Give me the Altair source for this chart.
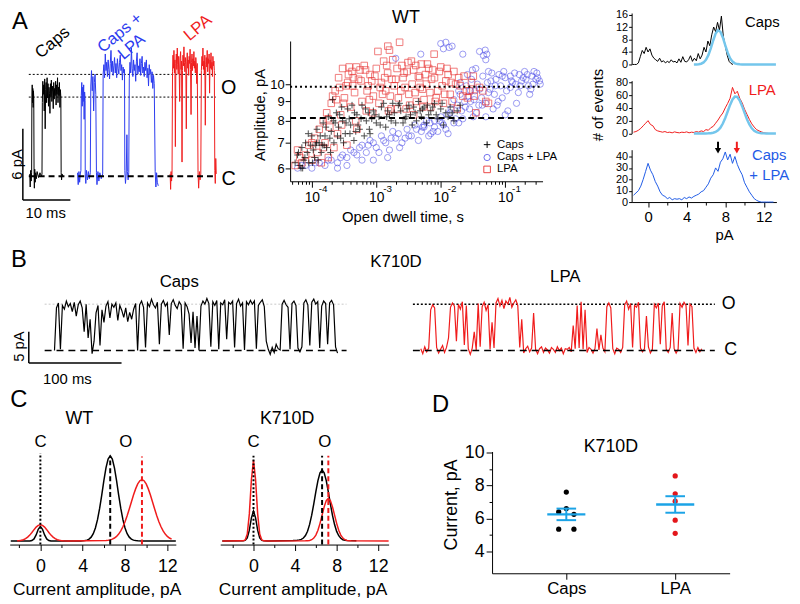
import altair as alt
import pandas as pd

FONT = "Liberation Sans"
OX, OY = 8, 8          # page margin
W, H = 792, 596        # whole drawing area (chart coords)

BLACK = "#000000"
BLUE = "#2b3bef"
BLUE_H = "#1f5be6"
RED = "#f01c1c"
CYAN_FIT = "#74c6ec"
CYAN_D = "#1ba3e6"
SC_BLUE = "#4d4de8"
SC_RED = "#e83232"

# ======================= DATA =======================
# ---- Panel A: single-channel traces (time ms, current pA) ----
a_caps_t = [1.45, 1.55, 1.65, 1.75, 1.85, 1.9, 1.97, 2.03, 2.1, 2.17, 2.23, 2.3,
            2.36, 2.42, 2.5, 2.6, 2.7, 2.85, 3.0, 3.3, 3.6, 3.9, 4.03,
            4.1, 4.2, 4.3, 4.4, 4.5, 4.6, 4.7, 4.8, 4.9, 5.0,
            5.1, 5.2, 5.3, 5.4, 5.5, 5.6, 5.7, 5.8, 5.9, 6.0,
            6.1, 6.2, 6.3, 6.4, 6.5, 6.6, 6.7, 6.8, 6.9, 7.0,
            7.1, 7.2, 7.3, 7.4, 7.5, 7.6, 7.7, 7.8, 7.9, 8.0,
            8.06, 8.15, 8.25, 8.4]
a_caps_i = [0.2, -0.9, 0.5, -0.4, 0.3, 6.5, 7.7, 6.2, 7.4, 5.8, 7.2, 6.6,
            0.4, -1.0, 0.6, -0.5, 0.3, -0.2, 0.4, -0.1, 0.3, 0.0, 0.2,
            6.2, 8.0, 6.9, 7.7, 5.5, 8.2, 4.0, 7.3, 7.9, 6.2,
            8.3, 6.6, 7.8, 5.9, 7.5, 7.0, 5.3, 7.8, 6.7, 8.1,
            6.3, 7.6, 7.1, 5.7, 7.9, 6.5, 7.4, 6.8, 8.0, 6.0,
            7.7, 6.9, 8.3, 6.2, 7.5, 6.8, 7.9, 5.8, 7.3, 6.6,
            0.3, -0.3, 0.2, 0.0]
a_mix_trace = [
    (11.5, 0.3), (11.65, -0.7), (11.8, 0.4), (11.95, -0.5), (12.1, 0.2), (12.22, 0.5),
    (12.3, 6.8), (12.4, 7.9), (12.5, 5.9), (12.6, 7.5), (12.7, 6.3), (12.8, 7.7), (12.9, 4.8),
    (13.0, 7.1), (13.1, 6.4), (13.13, 0.2), (13.25, -0.6), (13.4, 0.5), (13.6, -0.3),
    (13.8, 0.4), (14.0, -0.2), (14.2, 0.3), (14.3, 7.6), (14.45, 8.9), (14.6, 7.2), (14.75, 8.4),
    (14.9, 5.5), (15.05, 7.9), (15.2, 8.6), (15.35, 6.9), (15.49, 0.3), (15.6, -0.7), (15.8, 0.4),
    (16.0, -0.4), (16.2, 0.3), (16.5, -0.2), (16.8, 0.2), (16.9, 8.6), (17.05, 9.4), (17.2, 8.3),
    (17.35, 10.3), (17.5, 8.9), (17.65, 9.6), (17.8, 8.4), (17.95, 9.8), (18.1, 9.0), (18.25, 8.2),
    (18.4, 9.5), (18.55, 10.6), (18.7, 8.8), (18.85, 9.7), (19.0, 8.5), (19.15, 9.3), (19.3, 10.0),
    (19.45, 8.7), (19.6, 9.5), (19.75, 8.3), (19.9, 9.9), (20.05, 9.1), (20.2, 8.6), (20.35, 9.6),
    (20.5, 10.2), (20.65, 8.9), (20.8, 9.4), (20.95, 8.1), (21.1, 9.2), (21.25, 8.7), (21.4, 9.0),
    (21.46, 0.5), (21.6, -0.6), (21.75, 0.2), (21.9, 3.5), (22.0, 0.4), (22.15, -0.3), (22.29, 0.3),
    (22.4, 8.2), (22.55, 9.6), (22.7, 8.7), (22.85, 10.8), (23.0, 9.1), (23.15, 8.4), (23.3, 9.8),
    (23.45, 8.9), (23.6, 9.4), (23.75, 8.0), (23.9, 9.7), (24.05, 10.4), (24.2, 8.6), (24.35, 9.3),
    (24.5, 8.8), (24.65, 9.9), (24.8, 8.5), (24.95, 9.5), (25.1, 10.1), (25.25, 8.7), (25.4, 9.2),
    (25.55, 8.4), (25.7, 9.6), (25.85, 8.9), (26.0, 9.8), (26.15, 8.3), (26.3, 9.1), (26.45, 7.6),
    (26.6, 9.4), (26.75, 8.6), (26.9, 9.0), (27.05, 7.9), (27.2, 8.8), (27.35, 7.4), (27.5, 8.5),
    (27.65, 7.8), (27.85, 0.4), (28.0, -0.9), (28.15, 0.3), (28.3, -0.5), (28.5, -0.8)]
a_lpa_trace = [
    (31.0, 0.2), (31.1, -1.1), (31.2, 0.4), (31.3, -0.4), (31.4, 0.3), (31.5, 8.8), (31.6, 10.2),
    (31.7, 9.1), (31.8, 10.6), (31.9, 8.7), (32.0, 9.8), (32.1, 2.5), (32.2, 9.5), (32.3, 10.3),
    (32.4, 9.0), (32.5, 10.8), (32.6, 9.4), (32.7, 8.6), (32.8, 10.1), (32.9, 9.2), (33.0, 6.3),
    (33.1, 9.9), (33.2, 10.5), (33.3, 9.0), (33.4, 9.7), (33.5, 1.2), (33.6, 8.9), (33.7, 10.2),
    (33.8, 9.3), (33.9, 10.9), (34.0, 9.6), (34.1, 8.8), (34.2, 10.0), (34.3, 9.4), (34.4, 4.0),
    (34.5, 9.7), (34.6, 10.4), (34.7, 9.1), (34.8, 9.8), (34.9, 8.5), (35.0, 10.1), (35.1, 9.5),
    (35.2, 10.7), (35.3, 9.0), (35.4, 5.2), (35.5, 9.6), (35.6, 10.3), (35.7, 8.9), (35.8, 9.9),
    (35.9, 9.3), (36.0, 10.5), (36.1, 9.1), (36.2, 9.7), (36.3, 8.7), (36.4, 10.0), (36.5, 9.4),
    (36.6, 7.8), (36.7, 9.5), (36.87, 0.3), (37.0, -1.0), (37.15, 0.4), (37.3, -0.3), (37.45, 0.2),
    (37.57, 8.9), (37.7, 10.1), (37.8, 9.3), (37.9, 10.8), (38.0, 9.0), (38.1, 9.7), (38.2, 8.6),
    (38.3, 10.2), (38.4, 4.3), (38.5, 9.4), (38.6, 10.0), (38.7, 9.2), (38.8, 10.6), (38.9, 8.8),
    (39.0, 9.9), (39.1, 9.5), (39.2, 10.3), (39.3, 7.0), (39.4, 9.8), (39.5, 9.1), (39.6, 10.4),
    (39.7, 9.0), (39.8, 9.6), (39.9, 8.4), (40.0, 10.1), (40.1, 9.3), (40.2, 9.7), (40.3, 8.9),
    (40.4, 0.5), (40.5, -0.6), (40.6, 1.5), (40.7, 0.2)]
a_open_levels = [8.58, 6.67]
a_closed_level = 0.0
a_level_span = [1.25, 40.6]
a_bar_pa, a_bar_ms = 6, 10

# ---- Panel A: WT amplitude vs open dwell time ----
lpa_dwell = [5.5e-5, 6.0e-5, 6.5e-5, 7.0e-5, 8.0e-5, 9.0e-5, 1.0e-4, 1.1e-4, 1.2e-4, 1.3e-4,
             1.4e-4, 1.5e-4, 1.6e-4, 1.7e-4, 1.8e-4, 1.9e-4, 2.0e-4, 2.2e-4, 2.3e-4, 2.5e-4,
             2.6e-4, 2.8e-4, 3.0e-4, 3.2e-4, 3.5e-4, 3.6e-4, 3.8e-4, 4.0e-4, 4.2e-4, 4.6e-4,
             5.0e-4, 5.3e-4, 6.0e-4, 6.5e-4, 7.0e-4, 7.5e-4, 8.0e-4, 9.0e-4, 1.0e-3, 1.06e-3,
             1.1e-3, 1.2e-3, 1.3e-3, 1.4e-3, 1.5e-3, 1.51e-3, 1.6e-3, 1.7e-3, 1.8e-3, 2.0e-3,
             2.2e-3, 2.3e-3, 2.5e-3, 2.8e-3, 3.0e-3, 3.3e-3, 3.5e-3, 4.0e-3, 4.5e-3, 5.0e-3,
             5.5e-3, 6.0e-3, 6.5e-3, 7.0e-3, 7.9e-3, 8.0e-3, 9.0e-3, 1.0e-2, 1.1e-2, 1.2e-2,
             1.4e-2, 1.6e-2, 1.8e-2, 2.0e-2, 2.3e-2, 2.6e-2, 3.0e-2, 3.5e-2, 4.0e-2, 5.0e-2,
             5.5e-2, 2.4e-4, 3.4e-4, 4.4e-4, 5.6e-4, 7.2e-4, 8.5e-4, 1.15e-3, 1.35e-3, 1.65e-3,
             1.9e-3, 2.6e-3, 3.2e-3, 3.8e-3, 4.2e-3, 4.8e-3, 5.8e-3, 6.8e-3, 7.5e-3, 8.5e-3,
             1.3e-2, 1.5e-2, 1.7e-2, 2.2e-2, 2.8e-2, 3.2e-2, 3.8e-3, 2.1e-3, 1.0e-4, 1.5e-4,
             2.1e-4, 2.7e-4, 3.1e-4, 3.7e-4, 4.3e-4, 4.9e-4, 5.8e-4, 6.8e-4, 7.8e-4, 9.5e-4,
             1.25e-3, 1.45e-3, 1.75e-3, 2.1e-3, 2.4e-3, 2.7e-3, 3.1e-3, 3.6e-3, 4.1e-3, 4.7e-3,
             5.2e-3, 6.2e-3, 7.2e-3, 8.2e-3, 9.5e-3, 1.05e-2, 1.25e-2, 1.45e-2, 1.9e-2, 2.5e-2,
             1.8e-4, 2.9e-4, 4.8e-4, 8.8e-4, 1.55e-3, 2.9e-3, 5.3e-3, 1.15e-2, 3.3e-2, 4.5e-2]
lpa_amp = [6.1, 6.7, 6.4, 6.2, 6.5, 6.9, 6.3, 7.2, 6.6, 7.6,
           6.2, 8.0, 7.0, 8.4, 6.4, 7.7, 8.9, 6.8, 9.6, 7.4,
           10.4, 8.3, 11.0, 9.2, 6.9, 10.1, 11.1, 8.7, 10.8, 9.5,
           7.6, 10.3, 9.0, 11.2, 8.5, 9.9, 10.6, 9.3, 11.0, 12.2,
           8.9, 10.1, 11.5, 9.6, 10.7, 12.6, 12.3, 8.6, 11.6, 10.3,
           9.2, 12.9, 11.2, 9.8, 10.8, 8.8, 11.5, 9.5, 10.5, 11.3,
           9.1, 10.0, 11.0, 8.7, 12.0, 10.4, 9.6, 11.1, 8.9, 10.2,
           9.4, 10.8, 8.6, 9.9, 10.5, 9.2, 10.1, 8.4, 9.8, 9.0,
           8.9, 9.1, 9.9, 10.4, 10.9, 9.6, 10.2, 9.8, 10.4, 9.3,
           9.9, 10.4, 9.4, 10.9, 9.0, 9.8, 10.6, 9.5, 10.9, 9.2,
           10.6, 9.0, 10.0, 9.3, 9.6, 10.5, 8.3, 8.6, 7.0, 6.8,
           9.3, 9.8, 8.9, 10.6, 9.9, 11.1, 10.2, 10.9, 9.1, 10.5,
           9.4, 11.2, 10.3, 11.0, 9.6, 10.7, 11.4, 10.0, 11.2, 10.4,
           9.7, 11.3, 10.3, 9.0, 10.8, 9.9, 11.0, 10.1, 10.4, 9.6,
           8.1, 7.8, 8.0, 8.4, 8.5, 8.6, 8.7, 9.4, 9.3, 9.6]
caps_dwell = [5.5e-5, 6.0e-5, 6.5e-5, 7.0e-5, 7.5e-5, 8.0e-5, 8.5e-5, 9.0e-5, 1.0e-4, 1.05e-4,
              1.1e-4, 1.2e-4, 1.3e-4, 1.4e-4, 1.5e-4, 1.6e-4, 1.7e-4, 1.8e-4, 2.0e-4, 2.2e-4,
              2.4e-4, 2.6e-4, 2.8e-4, 3.0e-4, 3.3e-4, 3.6e-4, 4.0e-4, 4.5e-4, 5.0e-4, 5.5e-4,
              6.0e-4, 7.0e-4, 8.0e-4, 9.0e-4, 1.0e-3, 1.2e-3, 1.4e-3, 1.6e-3, 1.8e-3, 2.0e-3,
              2.4e-3, 2.8e-3, 3.2e-3, 3.6e-3, 4.0e-3, 4.5e-3, 5.0e-3, 5.5e-3, 6.0e-3, 7.0e-3,
              8.0e-3, 9.0e-3, 1.0e-2, 1.1e-2, 1.2e-2, 1.4e-2, 1.6e-2, 1.8e-2, 2.0e-2, 2.1e-4,
              6.8e-5, 7.8e-5, 9.5e-5, 1.15e-4, 1.25e-4, 1.35e-4, 1.55e-4, 1.9e-4, 2.3e-4, 2.7e-4,
              3.1e-4, 3.8e-4, 4.2e-4, 4.8e-4, 6.5e-4, 7.5e-4, 8.5e-4, 1.1e-3, 1.3e-3, 1.5e-3,
              1.7e-3, 2.2e-3, 2.6e-3, 3.0e-3, 3.4e-3, 4.2e-3, 5.2e-3, 6.5e-3, 7.5e-3, 1.3e-2,
              6.2e-5, 7.2e-5, 8.8e-5, 1.02e-4, 1.18e-4, 1.45e-4, 1.65e-4, 1.95e-4, 2.15e-4, 2.5e-4,
              2.9e-4, 3.4e-4, 3.9e-4, 4.6e-4, 5.2e-4, 5.8e-4, 6.8e-4, 7.8e-4, 9.5e-4, 1.15e-3,
              1.45e-3, 1.9e-3, 2.3e-3, 2.9e-3, 3.8e-3, 4.8e-3, 6.2e-3, 8.5e-3, 1.05e-2, 1.5e-2]
caps_amp = [6.2, 6.5, 6.1, 6.8, 6.3, 7.0, 6.6, 6.2, 7.3, 6.7,
            6.4, 7.6, 7.0, 6.6, 7.9, 7.3, 6.8, 8.2, 7.5, 7.0,
            8.4, 7.7, 7.2, 8.0, 7.4, 8.6, 7.8, 7.1, 8.3, 7.6,
            8.8, 8.0, 7.4, 8.5, 7.9, 8.7, 7.7, 8.3, 8.9, 7.9,
            8.5, 8.1, 8.8, 7.8, 8.4, 9.0, 8.2, 8.7, 7.9, 8.5,
            8.9, 8.1, 8.6, 7.8, 8.4, 8.7, 8.0, 8.5, 8.8, 9.1,
            6.0, 6.4, 6.9, 6.9, 6.3, 7.3, 6.9, 7.2, 7.9, 8.3,
            7.0, 8.1, 8.8, 7.5, 7.3, 8.4, 8.1, 8.2, 8.9, 8.5,
            8.0, 8.8, 7.9, 8.6, 8.3, 8.0, 8.6, 8.3, 8.7, 8.2,
            6.6, 6.0, 7.4, 6.2, 7.0, 6.9, 7.7, 6.6, 8.0, 7.3,
            8.7, 7.9, 7.4, 8.4, 7.8, 8.1, 8.6, 7.6, 8.3, 7.8,
            8.2, 8.4, 8.9, 8.2, 8.7, 8.5, 8.8, 8.3, 8.9, 8.4]
mix_dwell = [6.0e-5, 8.0e-5, 1.0e-4, 1.3e-4, 1.6e-4, 2.0e-4, 2.5e-4, 3.0e-4, 3.5e-4, 4.0e-4,
             5.0e-4, 6.0e-4, 7.0e-4, 8.0e-4, 1.0e-3, 1.2e-3, 1.4e-3, 1.6e-3, 1.8e-3, 2.0e-3,
             2.5e-3, 3.0e-3, 3.5e-3, 4.0e-3, 5.0e-3, 6.0e-3, 7.0e-3, 8.0e-3, 1.0e-2, 1.2e-2,
             1.4e-2, 1.6e-2, 1.8e-2, 2.0e-2, 2.2e-2, 2.5e-2, 2.8e-2, 3.0e-2, 3.3e-2, 3.6e-2,
             4.0e-2, 4.5e-2, 5.0e-2, 5.5e-2, 6.0e-2, 6.5e-2, 7.0e-2, 8.0e-2, 9.0e-2, 0.10,
             0.11, 0.12, 0.14, 0.16, 0.18, 0.20, 0.23, 0.26, 0.30, 0.35,
             0.10, 5.0e-2, 2.0e-3, 4.9e-3, 1.0e-2, 1.2e-2, 1.5e-2, 4.9e-2, 4.6e-2, 5.2e-2,
             1.1e-2, 1.35e-2, 5.0e-2, 2.2e-2, 9.0e-4, 1.5e-3, 2.5e-4, 3.5e-4, 6.0e-4, 1.1e-3,
             2.3e-3, 2.8e-3, 4.5e-3, 5.5e-3, 6.5e-3, 9.0e-3, 1.1e-2, 1.3e-2, 1.7e-2, 1.9e-2,
             2.4e-2, 2.7e-2, 3.2e-2, 3.9e-2, 4.3e-2, 5.8e-2, 7.5e-2, 8.5e-2, 0.13, 0.15,
             0.17, 0.19, 0.22, 0.25, 0.28, 0.32, 3.1e-2, 3.4e-2, 6.2e-2, 7.2e-2,
             2.0e-2, 2.6e-2, 1.6e-2, 1.9e-2, 9.5e-2, 0.12, 4.0e-2, 8.0e-3, 5.5e-3, 3.5e-2,
             7.0e-5, 1.15e-4, 1.8e-4, 2.8e-4, 4.5e-4, 5.5e-4, 7.5e-4, 9.0e-4, 1.3e-3, 1.7e-3,
             2.2e-3, 3.2e-3, 4.2e-3, 5.2e-3, 6.8e-3, 7.6e-3, 9.5e-3, 1.05e-2, 1.25e-2, 1.45e-2,
             2.1e-2, 2.35e-2, 2.9e-2, 3.7e-2, 4.4e-2, 5.3e-2, 6.8e-2, 7.8e-2, 0.105, 0.125,
             0.145, 0.165, 0.21, 0.24, 0.27, 0.31, 0.34, 0.09, 0.055, 0.029]
mix_amp = [6.0, 6.1, 6.0, 6.2, 6.1, 6.3, 6.2, 6.5, 6.4, 6.7,
           6.5, 6.9, 6.6, 7.1, 6.8, 7.3, 7.0, 6.7, 7.5, 7.2,
           7.0, 7.6, 7.3, 7.8, 7.5, 8.0, 7.4, 7.7, 8.2, 7.6,
           8.4, 7.9, 8.8, 9.4, 8.1, 9.9, 8.6, 10.3, 9.1, 8.4,
           9.7, 10.5, 8.9, 9.5, 10.2, 8.6, 9.9, 10.6, 9.2, 10.4,
           8.5, 9.8, 10.7, 9.5, 10.2, 10.8, 9.9, 10.5, 10.3, 10.0,
           8.3, 8.2, 11.7, 12.0, 12.8, 12.9, 12.6, 12.3, 11.9, 12.0,
           12.4, 12.5, 11.6, 12.0, 6.3, 6.4, 6.0, 6.1, 6.3, 6.6,
           6.8, 7.2, 7.1, 7.7, 7.3, 7.5, 7.8, 7.4, 8.1, 7.9,
           8.7, 9.3, 8.2, 8.8, 9.2, 9.7, 8.8, 9.9, 10.1, 8.9,
           9.9, 10.4, 10.6, 9.7, 10.8, 10.4, 10.9, 9.6, 10.7, 10.3,
           10.1, 10.6, 9.1, 9.6, 10.8, 10.5, 12.2, 8.0, 7.8, 11.0,
           6.1, 6.2, 6.3, 6.4, 6.6, 6.8, 6.9, 7.0, 7.1, 7.2,
           7.4, 7.3, 7.6, 7.7, 7.9, 7.5, 8.0, 7.9, 8.3, 8.6,
           8.5, 9.0, 9.6, 10.0, 8.8, 10.1, 9.4, 9.0, 9.6, 10.2,
           10.0, 10.6, 10.3, 9.4, 10.0, 10.7, 10.2, 10.5, 10.8, 9.0]
wt_open_level, wt_caps_level = 9.84, 8.14
scatter_span = [4.6e-5, 0.38]

# ---- Panel A: amplitude histograms (pA, # of events) ----
h_caps_start, h_caps_step = -1.6, 0.2
h_caps_counts = [0, 0, 0, 0.5, 2.5, 4.5, 3.5, 5.5, 4.0, 5.0,
                 3.0, 2.0, 1.5, 1.0, 2.0, 0.8, 1.2, 0.5, 1.0, 0.6,
                 1.5, 0.8, 1.0, 0.5, 1.8, 0.7, 2.5, 1.0, 0.8, 1.5,
                 2.8, 1.0, 2.0, 1.2, 3.5, 1.8, 3.0, 5.5, 4.0, 7.5,
                 6.0, 9.5, 12.0, 10.5, 13.5, 11.0, 15.5, 9.0, 6.0, 3.0,
                 1.0, 0.3, 0.0]
h_lpa_start, h_lpa_step = -1.5, 0.25
h_lpa_counts = [2, 3, 5, 8, 12, 16, 20, 14, 12, 6,
                4, 3, 2, 3, 1.5, 2, 1, 2.5, 1.5, 1,
                2, 1.5, 2.5, 1, 2, 1.5, 3, 2, 4, 3,
                6, 5, 9, 11, 16, 21, 27, 32, 40, 47,
                55, 72, 62, 66, 55, 48, 38, 30, 22, 15,
                10, 6, 4, 2.5, 1, 0.5, 0]
h_mix_start, h_mix_step = -1.5, 0.25
h_mix_counts = [6, 8, 10, 14, 20, 27, 34, 28, 24, 18,
                14, 9, 6, 5, 3, 4, 2, 3, 2.5, 3,
                2, 4, 3, 4.5, 3.5, 5, 6, 7, 9, 10,
                13, 16, 21, 24, 30, 27, 35, 38, 44, 37,
                42, 34, 40, 33, 28, 24, 17, 13, 9, 6,
                3, 1.5, 0.5, 0, 0, 0, 0, 0, 0]
fit_start, fit_step, fit_end = 4.75, 0.25, 13.25
fit_caps_counts = [0.0, 0.02, 0.08, 0.24, 0.64, 1.49, 2.98, 5.16, 7.69, 9.89, 10.97,
                   10.49, 8.65, 6.16, 3.78, 2.0, 0.91, 0.36, 0.12, 0.04, 0.01, 0.0]
fit_lpa_counts = [0, 0, 0, 0.01, 0.02, 0.06, 0.16, 0.43, 1.06, 2.36, 4.85, 9.0, 15.5,
                  24.1, 34.3, 44.6, 53.1, 57.6, 57.1, 51.6, 42.7, 32.2, 22.2, 14.0, 8.05,
                  4.2, 2.03, 0.89, 0.36, 0.13, 0.04, 0.01]
arrow_caps_pa, arrow_lpa_pa = 7.25, 9.2

# ---- Panel B: K710D traces (ms, pA), 2.134 ms per sample ----
b_dt = 2.134
b_caps_t0 = 27.7
b_caps_i = [0.0, 6.8, 7.6, 0.2, 7.2, 6.6, 7.9, 7.0, 7.5, 6.2,
            7.7, 5.5, 7.3, 7.9, 6.8, 3.0, 7.4, 2.0, 5.0, -0.5,
            1.5, 6.0, 7.2, 0.8, 6.5, 4.5, 7.1, 7.8, 5.2, 7.4,
            6.9, 7.6, 4.8, 7.2, 6.4, 5.3, 6.8, 4.6, 6.1, 5.0,
            6.6, 7.5, 0.0, 7.3, 7.9, 6.9, 0.5, 7.6, 7.0, 8.2,
            7.3, 6.8, 7.7, 1.0, 7.4, 8.0, 7.1, 7.6, 2.5, 7.5,
            8.1, 7.2, 6.7, 7.8, 7.3, 0.3, 7.6, 7.0, 5.8, 1.2,
            6.2, 0.4, 5.5, 0.0, 7.1, 7.9, 7.4, 8.3, 7.5, 0.6,
            7.8, 7.2, 8.0, 0.2, 7.6, 7.3, 8.1, 1.8, 7.7, 7.4,
            7.9, 0.5, 7.5, 8.2, 7.1, 7.6, 0.1, 7.8, 7.3, 8.0,
            7.4, 7.9, 0.3, 7.2, 7.7, 8.1, 7.0, 1.5, 0.2, -0.6,
            0.5, -0.3, 1.0, 0.3, 0.1, 7.4, 8.0, 7.3, 6.9, 0.2,
            7.5, 7.9, 7.2, 0.4, -0.2, 0.6, 7.6, 8.1, 7.3, 0.8,
            7.7, 8.2, 7.4, 7.8, 0.4, 7.1, 7.9, 7.5, 1.0, 7.6,
            8.0, 7.3, 0.6, -0.4]
b_lpa_t0 = 0.0
b_lpa_i = [0.3, -0.5, 0.6, -0.2, 0.4, 6.5, 7.3, 6.8, 0.5, -0.4,
           0.2, 0.8, -0.3, 0.5, 2.0, 6.9, 7.6, 7.1, 1.5, 7.4,
           6.6, 7.8, 0.9, 7.2, 0.3, -0.6, 0.4, 3.0, 0.1, 7.5,
           0.6, 7.0, 7.7, 6.4, 7.3, 0.2, 4.5, 0.4, 7.6, 8.3,
           7.1, 8.0, 6.7, 7.9, 7.4, 8.5, 6.9, 7.6, 8.1, 7.2,
           0.5, 5.0, -0.4, 0.3, 0.7, -0.2, 0.4, 6.0, 0.2, -0.5,
           0.3, 0.6, -0.3, 0.4, 0.1, -0.4, 0.5, 0.2, -0.3, 0.6,
           0.0, 0.4, -0.5, 0.3, 0.2, 0.5, -0.2, 4.0, 0.3, 7.2,
           0.4, 7.8, 0.2, 6.5, -0.3, 0.5, 0.2, -0.4, 0.3, 3.5,
           0.1, 2.5, 0.4, -0.2, 7.0, 7.6, 6.8, 0.3, -0.5, 0.4,
           0.2, -0.3, 0.5, 7.3, 7.9, 6.6, 7.5, 0.5, 7.2, 6.9,
           7.7, 0.4, -0.2, 0.3, 5.5, 0.6, -0.4, 0.2, 7.4, 6.8,
           7.6, 1.0, 7.1, 7.8, 0.2, -0.3, 0.5, 6.0, 0.3, -0.4,
           0.2, 7.5, 6.9, 7.7, 7.2, 0.8, 7.4, 7.0, 0.4, -0.3,
           0.5, -0.2, 0.3]
b_open_level = 7.4
b_caps_span = [17.1, 342.6]
b_lpa_span = [-8.5, 317.0]
b_bar_pa, b_bar_ms = 5, 100

# ---- Panel C: fitted amplitude distributions (pA, normalised) ----
c_wt_caps = [(-2.8, 0), (-1.0, 0), (-0.8, 0.005), (-0.6, 0.023), (-0.4, 0.070), (-0.2, 0.136),
             (0, 0.17), (0.2, 0.136), (0.4, 0.070), (0.6, 0.023), (0.8, 0.005), (1.0, 0),
             (3.8, 0), (4.0, 0.0015), (4.2, 0.004), (4.4, 0.009), (4.6, 0.021), (4.8, 0.044),
             (5.0, 0.085), (5.2, 0.151), (5.4, 0.249), (5.6, 0.381), (5.8, 0.539), (6.0, 0.707),
             (6.2, 0.857), (6.4, 0.962), (6.6, 1.0), (6.8, 0.962), (7.0, 0.857), (7.2, 0.707),
             (7.4, 0.539), (7.6, 0.381), (7.8, 0.249), (8.0, 0.151), (8.2, 0.085), (8.4, 0.044),
             (8.6, 0.021), (8.8, 0.009), (9.0, 0.004), (9.2, 0.0015), (9.6, 0), (12.8, 0)]
c_wt_lpa = [(-2.2, 0.001), (-2.0, 0.003), (-1.8, 0.007), (-1.6, 0.014), (-1.4, 0.026),
            (-1.2, 0.044), (-1.0, 0.068), (-0.8, 0.099), (-0.6, 0.132), (-0.4, 0.162),
            (-0.2, 0.182), (0, 0.19), (0.2, 0.182), (0.4, 0.162), (0.6, 0.132), (0.8, 0.099),
            (1.0, 0.068), (1.2, 0.044), (1.4, 0.026), (1.6, 0.014), (1.8, 0.007), (2.0, 0.003),
            (2.2, 0.001), (2.6, 0), (6.2, 0.004), (6.4, 0.007), (6.6, 0.012), (6.8, 0.021),
            (7.0, 0.034), (7.2, 0.053), (7.4, 0.080), (7.6, 0.117), (7.8, 0.166), (8.0, 0.225),
            (8.2, 0.296), (8.4, 0.374), (8.6, 0.457), (8.8, 0.539), (9.0, 0.611), (9.2, 0.670),
            (9.4, 0.707), (9.6, 0.72), (9.8, 0.707), (10.0, 0.670), (10.2, 0.611), (10.4, 0.539),
            (10.6, 0.457), (10.8, 0.374), (11.0, 0.296), (11.2, 0.225), (11.4, 0.166),
            (11.6, 0.117), (11.8, 0.080), (12.0, 0.053), (12.2, 0.034), (12.4, 0.021)]
c_k_caps = [(-3.0, 0), (-1.0, 0.0006), (-0.8, 0.006), (-0.6, 0.035), (-0.4, 0.126), (-0.2, 0.271),
            (0, 0.35), (0.2, 0.271), (0.4, 0.126), (0.6, 0.035), (0.8, 0.006), (1.0, 0.0006),
            (1.4, 0), (3.8, 0.004), (4.2, 0.008), (4.4, 0.012), (4.6, 0.018), (4.8, 0.034),
            (5.0, 0.063), (5.2, 0.114), (5.4, 0.194), (5.6, 0.302), (5.8, 0.435), (6.0, 0.578),
            (6.2, 0.709), (6.4, 0.80), (6.6, 0.833), (6.8, 0.80), (7.0, 0.708), (7.2, 0.577),
            (7.4, 0.433), (7.6, 0.30), (7.8, 0.192), (8.0, 0.112), (8.2, 0.061), (8.4, 0.031),
            (8.6, 0.014), (8.8, 0.008), (9.0, 0.005), (9.9, 0.003)]
c_k_lpa = [(-3.0, 0), (-1.0, 0.001), (-0.8, 0.012), (-0.6, 0.080), (-0.4, 0.317), (-0.2, 0.722),
           (0, 0.95), (0.2, 0.722), (0.4, 0.317), (0.6, 0.080), (0.8, 0.012), (1.0, 0.001),
           (1.4, 0), (5.0, 0.001), (5.2, 0.002), (5.4, 0.0056), (5.6, 0.014), (5.8, 0.033),
           (6.0, 0.068), (6.2, 0.125), (6.4, 0.206), (6.6, 0.303), (6.8, 0.40), (7.0, 0.473),
           (7.2, 0.50), (7.4, 0.473), (7.6, 0.40), (7.8, 0.303), (8.0, 0.206), (8.2, 0.125),
           (8.4, 0.068), (8.6, 0.033), (8.8, 0.014), (9.0, 0.0056), (9.2, 0.002), (9.4, 0.001),
           (13.0, 0)]
c_wt_means = {"closed": 0.0, "caps": 6.6, "lpa": 9.6}
c_k_means = {"closed": 0.0, "caps": 6.6, "lpa": 7.2}

# ---- Panel D: K710D unitary currents (pA) ----
d_caps_y = [7.6, 6.4, 6.6, 6.25, 5.35, 5.35]
d_caps_jit = [0.0, -0.07, 0.0, 0.07, -0.07, 0.07]
d_lpa_y = [8.58, 7.5, 7.05, 5.9, 5.1]
d_group_pos = [1, 2]
d_means = [6.25, 6.85]
d_sems = [0.35, 0.5]


# ======================= HELPERS =======================
def px(x):
    return x - OX


def py(y):
    return y - OY


def sc(domain, rng, log=False):
    if log:
        return alt.Scale(type="log", domain=domain, range=rng, nice=False)
    return alt.Scale(type="linear", domain=domain, range=rng, nice=False, zero=False)


def ax_bottom(page_y, values, tick=6, size=15, pad=3, labels=True, domain=True, expr=""):
    kw = dict(orient="bottom", offset=py(page_y) - H, values=values, tickSize=tick,
              labelFontSize=size, labelPadding=pad, labels=labels, domain=domain,
              grid=False, title=None, ticks=True)
    if expr:
        kw["labelExpr"] = expr
    return alt.Axis(**kw)


def ax_left(page_x, values, tick=5, size=13, pad=2, labels=True, domain=True, expr=""):
    kw = dict(orient="left", offset=-px(page_x), values=values, tickSize=tick,
              labelFontSize=size, labelPadding=pad, labels=labels, domain=domain,
              grid=False, title=None, ticks=True)
    if expr:
        kw["labelExpr"] = expr
    return alt.Axis(**kw)


def xy_df(xs, ys):
    n = min(len(xs), len(ys))
    return pd.DataFrame({"x": list(xs)[:n], "y": list(ys)[:n]})


def pairs_df(pairs):
    return pd.DataFrame(pairs, columns=["x", "y"])


def line(df, xs, ys, color, width=1.0, xaxis=None, yaxis=None, dash=None, opacity=1.0):
    kw = dict(color=color, strokeWidth=width, opacity=opacity)
    if dash:
        kw["strokeDash"] = dash
    return alt.Chart(df).mark_line(**kw).encode(
        x=alt.X("x:Q", scale=xs, axis=xaxis),
        y=alt.Y("y:Q", scale=ys, axis=yaxis))


def hrule(y, x1, x2, xs, ys, color=BLACK, width=1.0, dash=None):
    d = pd.DataFrame({"x": [x1], "x2": [x2], "y": [y]})
    kw = dict(color=color, strokeWidth=width)
    if dash:
        kw["strokeDash"] = dash
    return alt.Chart(d).mark_rule(**kw).encode(
        x=alt.X("x:Q", scale=xs, axis=None), x2="x2:Q",
        y=alt.Y("y:Q", scale=ys, axis=None))


def vrule(x, y1, y2, xs, ys, color=BLACK, width=1.0, dash=None, xaxis=None, yaxis=None):
    d = pd.DataFrame({"x": [x], "y": [y1], "y2": [y2]})
    kw = dict(color=color, strokeWidth=width)
    if dash:
        kw["strokeDash"] = dash
    return alt.Chart(d).mark_rule(**kw).encode(
        x=alt.X("x:Q", scale=xs, axis=xaxis),
        y=alt.Y("y:Q", scale=ys, axis=yaxis), y2="y2:Q")


def label(text, x, y, size=15, color=BLACK, angle=0, align="center", baseline="middle"):
    d = pd.DataFrame({"t": [text]})
    return alt.Chart(d).mark_text(fontSize=size, color=color, angle=angle, align=align,
                                  baseline=baseline, font=FONT, lineBreak="\n").encode(
        x=alt.value(px(x)), y=alt.value(py(y)), text="t:N")


def marker(x, y, shape, color, size, filled=False, width=1.0):
    d = pd.DataFrame({"k": [0]})
    return alt.Chart(d).mark_point(shape=shape, filled=filled, color=color, size=size,
                                   strokeWidth=width, opacity=1).encode(
        x=alt.value(px(x)), y=alt.value(py(y)))


def series_x(start, step, vals):
    return [round(start + step * i, 4) for i in range(len(vals))]


PLUS = "M-1,0L1,0M0,-1L0,1"
layers = []

# ======================= PANEL A: traces =======================
sA_x = sc([0, 45], [px(23), px(23 + 45 * 4.8)])
sA_y = sc([-2, 13], [py(199), py(19)])
for lev in a_open_levels:
    layers.append(hrule(lev, a_level_span[0], a_level_span[1], sA_x, sA_y, BLACK, 1.0, [2, 2]))
layers.append(line(xy_df(a_caps_t, a_caps_i), sA_x, sA_y, BLACK, 1.0))
layers.append(line(pairs_df(a_mix_trace), sA_x, sA_y, BLUE, 1.0))
layers.append(line(pairs_df(a_lpa_trace), sA_x, sA_y, RED, 1.0))
layers.append(hrule(a_closed_level, a_level_span[0], a_level_span[1], sA_x, sA_y, BLACK, 2.0, [6, 4]))
layers.append(vrule(0, -2, -2 + a_bar_pa, sA_x, sA_y, BLACK, 1.5))
layers.append(hrule(-2, 0, a_bar_ms, sA_x, sA_y, BLACK, 1.5))

# ======================= PANEL A: scatter =======================
sS_x = sc(scatter_span, [px(293), px(548)], log=True)
sS_y = sc([5.54, 13.0], [py(180), py(38.3)], log=True)
minor_log = [m * 10.0 ** e for e in (-5, -4, -3, -2, -1) for m in range(2, 10)
             if scatter_span[0] <= m * 10.0 ** e <= scatter_span[1]]

sc_mix = alt.Chart(xy_df(mix_dwell, mix_amp)).mark_point(
    shape="circle", filled=False, color=SC_BLUE, size=40, strokeWidth=0.8).encode(
    x=alt.X("x:Q", scale=sS_x, axis=ax_bottom(180, [1e-4, 1e-3, 1e-2, 1e-1], tick=6, size=14,
                                               pad=3, expr="'10'")),
    y=alt.Y("y:Q", scale=sS_y, axis=None))
sc_lpa = alt.Chart(xy_df(lpa_dwell, lpa_amp)).mark_point(
    shape="square", filled=False, color=SC_RED, size=44, strokeWidth=0.9).encode(
    x=alt.X("x:Q", scale=sS_x, axis=ax_bottom(180, minor_log, tick=3, labels=False, domain=False)),
    y=alt.Y("y:Q", scale=sS_y, axis=None))
sc_caps = alt.Chart(xy_df(caps_dwell, caps_amp)).mark_point(
    shape=PLUS, filled=False, color=BLACK, size=44, strokeWidth=1).encode(
    x=alt.X("x:Q", scale=sS_x, axis=None),
    y=alt.Y("y:Q", scale=sS_y, axis=ax_left(293, [6, 7, 8, 9, 10], tick=5, size=13, pad=1,
                                             expr="format(datum.value, 'd')")))
layers += [sc_mix, sc_lpa, sc_caps]
layers.append(hrule(wt_open_level, scatter_span[0], scatter_span[1], sS_x, sS_y, BLACK, 2.0, [2, 3]))
layers.append(hrule(wt_caps_level, scatter_span[0], scatter_span[1], sS_x, sS_y, BLACK, 2.0, [6, 4]))
exp_df = pd.DataFrame({"x": [1e-4, 1e-3, 1e-2, 1e-1], "t": ["-4", "-3", "-2", "-1"]})
layers.append(alt.Chart(exp_df).mark_text(fontSize=10, font=FONT, align="left", baseline="middle",
                                          dx=7, color=BLACK).encode(
    x=alt.X("x:Q", scale=sS_x, axis=None), y=alt.value(py(188)), text="t:N"))
# legend
layers.append(marker(492, 143, PLUS, BLACK, 44))
layers.append(marker(492, 156, "circle", SC_BLUE, 40, width=0.8))
layers.append(marker(492, 168, "square", SC_RED, 44, width=0.9))
layers.append(label("Caps", 502, 143, 11.5, align="left"))
layers.append(label("Caps + LPA", 502, 156, 11.5, align="left"))
layers.append(label("LPA", 502, 168, 11.5, align="left"))

# ======================= PANEL A: histograms =======================
sH_x = sc([-1.7, 13.3], [px(638), px(784.25)])
sH1_y = sc([0, 16.5], [py(62), py(62 - 16.5 * 3.15)])
sH2_y = sc([0, 82.6], [py(131.7), py(131.7 - 82.6 * 0.646)])
sH3_y = sc([0, 46], [py(201), py(201 - 46 * 1.15)])

layers.append(line(xy_df(series_x(h_caps_start, h_caps_step, h_caps_counts), h_caps_counts),
                   sH_x, sH1_y, BLACK, 1.0,
                   yaxis=ax_left(638, [0, 4, 8, 12, 16], tick=3, size=11, pad=1)))
fx_c = series_x(fit_start, fit_step, fit_caps_counts) + [fit_end]
layers.append(line(xy_df(fx_c, fit_caps_counts + [0.0]), sH_x, sH1_y, CYAN_FIT, 2.5))

layers.append(line(xy_df(series_x(h_lpa_start, h_lpa_step, h_lpa_counts), h_lpa_counts),
                   sH_x, sH2_y, RED, 1.0,
                   yaxis=ax_left(638, [0, 20, 40, 60, 80], tick=3, size=11, pad=1)))
fx_l = series_x(fit_start, fit_step, fit_lpa_counts) + [fit_end]
layers.append(line(xy_df(fx_l, fit_lpa_counts + [0.0]), sH_x, sH2_y, CYAN_FIT, 2.5))

layers.append(line(xy_df(series_x(h_mix_start, h_mix_step, h_mix_counts), h_mix_counts),
                   sH_x, sH3_y, BLUE_H, 1.0,
                   xaxis=ax_bottom(201, [0, 4, 8, 12], tick=5, size=15, pad=3),
                   yaxis=ax_left(638, [0, 10, 20, 30, 40], tick=3, size=11, pad=1)))
# arrows
for pa, col, ax in ((arrow_caps_pa, BLACK, ax_bottom(201, [2, 6, 10], tick=3, labels=False, domain=False)),
                    (arrow_lpa_pa, RED, None)):
    layers.append(vrule(pa, 53, 46.5, sH_x, sH3_y, col, 2.0, xaxis=ax))
    layers.append(alt.Chart(pd.DataFrame({"x": [pa], "y": [45.0]})).mark_point(
        shape="triangle-down", filled=True, color=col, size=40, opacity=1).encode(
        x=alt.X("x:Q", scale=sH_x, axis=None), y=alt.Y("y:Q", scale=sH3_y, axis=None)))

# ======================= PANEL B =======================
sB1_x = sc([0, 360], [px(29), px(29 + 360 * 0.937)])
sB2_x = sc([-10, 320], [px(425 - 10 * 0.937), px(425 + 320 * 0.937)])
sB_y = sc([-2, 10], [py(363.7), py(287.7)])
layers.append(hrule(b_open_level, b_caps_span[0], b_caps_span[1], sB1_x, sB_y, "#c8c8c8", 1.0, [2, 2]))
layers.append(line(xy_df(series_x(b_caps_t0, b_dt, b_caps_i), b_caps_i), sB1_x, sB_y, BLACK, 1.2))
layers.append(hrule(0, b_caps_span[0], b_caps_span[1], sB1_x, sB_y, BLACK, 1.5, [7, 5]))
layers.append(vrule(0, -2, -2 + b_bar_pa, sB1_x, sB_y, BLACK, 1.5))
layers.append(hrule(-2, 0, b_bar_ms, sB1_x, sB_y, BLACK, 1.5))
layers.append(hrule(b_open_level, b_lpa_span[0], b_lpa_span[1], sB2_x, sB_y, BLACK, 1.5, [2, 2]))
layers.append(line(xy_df(series_x(b_lpa_t0, b_dt, b_lpa_i), b_lpa_i), sB2_x, sB_y, RED, 1.2))
layers.append(hrule(0, b_lpa_span[0], b_lpa_span[1], sB2_x, sB_y, BLACK, 1.5, [7, 5]))

# ======================= PANEL C =======================
sC1_x = sc([-2.9, 12.8], [px(40.7 - 2.9 * 10.69), px(40.7 + 12.8 * 10.69)])
sC2_x = sc([-3.2, 13.0], [px(256 - 3.2 * 10.5), px(256 + 13.0 * 10.5)])
sC_y = sc([0, 1], [py(543.3), py(457.3)])
for sx, caps_c, lpa_c, means, top in ((sC1_x, c_wt_caps, c_wt_lpa, c_wt_means, (1.03, 1.0, 0.99)),
                                      (sC2_x, c_k_caps, c_k_lpa, c_k_means, (1.0, 1.0, 1.0))):
    layers.append(line(pairs_df(caps_c), sx, sC_y, BLACK, 1.5,
                       xaxis=ax_bottom(547, [0, 4, 8, 12], tick=6, size=18, pad=7)))
    layers.append(line(pairs_df(lpa_c), sx, sC_y, RED, 1.5,
                       xaxis=ax_bottom(547, [-2, 2, 6, 10], tick=3, labels=False, domain=False)))
    layers.append(vrule(means["closed"], -0.043, top[0], sx, sC_y, BLACK, 2.0, [2, 2]))
    layers.append(vrule(means["caps"], -0.043, top[1], sx, sC_y, BLACK, 2.0, [5, 3]))
    layers.append(vrule(means["lpa"], -0.043, top[2], sx, sC_y, RED, 2.0, [5, 3]))

# ======================= PANEL D =======================
sD_x = sc([0.318, 2.5], [px(497), px(737)])
sD_y = sc([2.68, 10.06], [py(576), py(453)])
caps_x = [d_group_pos[0] + j for j in d_caps_jit]
layers.append(alt.Chart(xy_df(caps_x, d_caps_y)).mark_point(
    shape="circle", filled=True, color=BLACK, size=28, opacity=1).encode(
    x=alt.X("x:Q", scale=sD_x, axis=ax_bottom(576, [1, 2], tick=6, size=17, pad=1,
                                               expr="datum.value == 1 ? 'Caps' : 'LPA'")),
    y=alt.Y("y:Q", scale=sD_y, axis=ax_left(497, [4, 6, 8, 10], tick=6, size=18, pad=2))))
layers.append(alt.Chart(xy_df([d_group_pos[1]] * len(d_lpa_y), d_lpa_y)).mark_point(
    shape="circle", filled=True, color="#e3161b", size=28, opacity=1).encode(
    x=alt.X("x:Q", scale=sD_x, axis=None),
    y=alt.Y("y:Q", scale=sD_y, axis=ax_left(497, [5, 7, 9], tick=3, labels=False, domain=False))))
stat = pd.DataFrame({
    "g": d_group_pos, "m": d_means,
    "lo": [m - s for m, s in zip(d_means, d_sems)],
    "hi": [m + s for m, s in zip(d_means, d_sems)]})
stat["ml"] = stat["g"] - 0.175
stat["mr"] = stat["g"] + 0.175
stat["cl"] = stat["g"] - 0.09
stat["cr"] = stat["g"] + 0.09
base = alt.Chart(stat)
layers.append(base.mark_rule(color=CYAN_D, strokeWidth=2.5).encode(
    x=alt.X("ml:Q", scale=sD_x, axis=None), x2="mr:Q", y=alt.Y("m:Q", scale=sD_y, axis=None)))
layers.append(base.mark_rule(color=CYAN_D, strokeWidth=2).encode(
    x=alt.X("g:Q", scale=sD_x, axis=None), y=alt.Y("lo:Q", scale=sD_y, axis=None), y2="hi:Q"))
layers.append(base.mark_rule(color=CYAN_D, strokeWidth=2).encode(
    x=alt.X("cl:Q", scale=sD_x, axis=None), x2="cr:Q", y=alt.Y("lo:Q", scale=sD_y, axis=None)))
layers.append(base.mark_rule(color=CYAN_D, strokeWidth=2).encode(
    x=alt.X("cl:Q", scale=sD_x, axis=None), x2="cr:Q", y=alt.Y("hi:Q", scale=sD_y, axis=None)))

# ======================= TEXT =======================
texts = [
    ("A", 20, 19, 24, BLACK, 0),
    ("Caps", 53, 40, 17, BLACK, 320),
    ("Caps +\nLPA", 121, 30, 16.5, BLUE, 320),
    ("LPA", 200, 25, 17, RED, 320),
    ("O", 231, 86, 20, BLACK, 0),
    ("C", 231, 178, 20, BLACK, 0),
    ("6 pA", 17, 163, 15, BLACK, 270),
    ("10 ms", 46, 212, 15, BLACK, 0),
    ("WT", 410, 15, 18, BLACK, 0),
    ("Amplitude, pA", 263, 113, 15, BLACK, 270),
    ("Open dwell time, s", 407, 216, 15, BLACK, 0),
    ("Caps", 770, 19, 15, BLACK, 0),
    ("LPA", 770, 88, 15, RED, 0),
    ("Caps", 777, 154, 15, BLUE_H, 0),
    ("+ LPA", 777, 174, 15, BLUE_H, 0),
    ("# of events", 604, 103, 15, BLACK, 270),
    ("pA", 732, 234, 15, BLACK, 0),
    ("B", 19, 260, 24, BLACK, 0),
    ("Caps", 181, 282, 17, BLACK, 0),
    ("K710D", 400, 262, 17, BLACK, 0),
    ("LPA", 571, 277, 17, BLACK, 0),
    ("O", 736, 304, 18, BLACK, 0),
    ("C", 738, 351, 18, BLACK, 0),
    ("5 pA", 19, 347, 15, BLACK, 270),
    ("100 ms", 68, 380, 15, BLACK, 0),
    ("C", 19, 401, 24, BLACK, 0),
    ("WT", 80, 420, 18, BLACK, 0),
    ("C", 41, 443, 17, BLACK, 0),
    ("O", 127, 443, 17, BLACK, 0),
    ("K710D", 290, 420, 18, BLACK, 0),
    ("C", 256, 443, 17, BLACK, 0),
    ("O", 328, 443, 17, BLACK, 0),
    ("Current amplitude, pA", 98, 593, 17.5, BLACK, 0),
    ("Current amplitude, pA", 306, 593, 17.5, BLACK, 0),
    ("D", 445, 406, 24, BLACK, 0),
    ("K710D", 617, 448, 18, BLACK, 0),
    ("Current, pA", 457, 507, 18, BLACK, 270),
]
for t, x, y, s, c, a in texts:
    layers.append(label(t, x, y, s, c, a))

chart = alt.layer(*layers).resolve_scale(x="independent", y="independent").properties(
    width=W, height=H, autosize=alt.AutoSizeParams(type="none"), padding=0, background="white"
).configure_view(stroke=None).configure_axis(
    grid=False, labelFont=FONT, titleFont=FONT, labelColor=BLACK, tickColor=BLACK,
    domainColor=BLACK, labelFlush=False, labelOverlap=False, domainWidth=1, tickWidth=1)

chart.save("out.html", embed_options={"renderer": "svg", "actions": False})
